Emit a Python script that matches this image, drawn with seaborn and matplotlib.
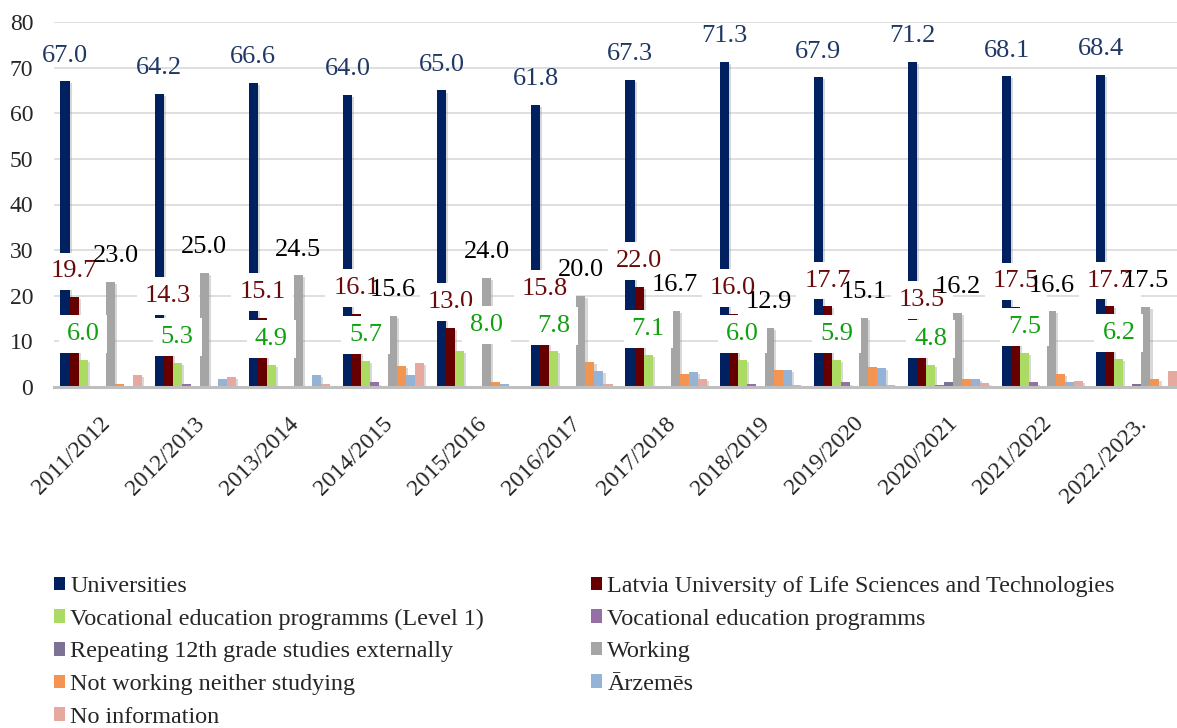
import matplotlib
matplotlib.use("Agg")
import matplotlib.pyplot as plt
import matplotlib.patheffects as pe
import matplotlib.transforms as mtransforms
from matplotlib.patches import Patch
import seaborn as sns
import pandas as pd

# data
years = ["2011/2012", "2012/2013", "2013/2014", "2014/2015", "2015/2016", "2016/2017",
         "2017/2018", "2018/2019", "2019/2020", "2020/2021", "2021/2022", "2022./2023."]
universities = [67.0, 64.2, 66.6, 64.0, 65.0, 61.8, 67.3, 71.3, 67.9, 71.2, 68.1, 68.4]
latvia_univ = [19.7, 14.3, 15.1, 16.1, 13.0, 15.8, 22.0, 16.0, 17.7, 13.5, 17.5, 17.7]
vocational_l1 = [6.0, 5.3, 4.9, 5.7, 8.0, 7.8, 7.1, 6.0, 5.9, 4.8, 7.5, 6.2]
vocational = [0.0, 0.6, 0.0, 1.0, 0.0, 0.0, 0.0, 0.6, 1.0, 0.5, 1.0, 0.3]
repeating = [0.0, 0.0, 0.0, 0.0, 0.0, 0.0, 0.0, 0.0, 0.0, 1.1, 0.0, 0.7]
working = [23.0, 25.0, 24.5, 15.6, 24.0, 20.0, 16.7, 12.9, 15.1, 16.2, 16.6, 17.5]
not_working = [0.6, 0.0, 0.0, 4.6, 1.1, 5.4, 2.9, 3.7, 4.3, 1.7, 2.9, 1.8]
abroad = [0.0, 1.8, 2.6, 2.6, 0.6, 3.5, 3.2, 3.7, 4.1, 1.7, 1.0, 0.0]
no_info = [2.6, 2.3, 0.6, 5.2, 0.2, 0.6, 1.7, 0.4, 0.4, 0.8, 1.3, 3.4]

series_names = ["Universities",
                "Latvia University of Life Sciences and Technologies",
                "Vocational education programms (Level 1)",
                "Vocational education programms",
                "Repeating 12th grade studies externally",
                "Working",
                "Not working neither studying",
                "Ārzemēs",
                "No information"]
series_values = [universities, latvia_univ, vocational_l1, vocational, repeating,
                 working, not_working, abroad, no_info]
colors = ["#002060", "#660000", "#ABDB63", "#9470A6", "#7F7193",
          "#A5A5A5", "#F39450", "#95B3D7", "#E6A99F"]

rows = []
for name, vals in zip(series_names, series_values):
    for yr, v in zip(years, vals):
        rows.append({"Year": yr, "Value": v, "Series": name})
df = pd.DataFrame(rows)

sns.set_style("white")
plt.rcParams["font.family"] = "serif"
plt.rcParams["font.serif"] = ["Liberation Serif", "DejaVu Serif"]

fig = plt.figure(figsize=(11.77, 7.28), dpi=100)
ax = fig.add_axes([54 / 1177, 1 - 387 / 728, 1130 / 1177, 365 / 728])

sns.barplot(data=df, x="Year", y="Value", hue="Series", hue_order=series_names,
            order=years, palette=colors, saturation=1, width=0.862, gap=0,
            errorbar=None, legend=False, ax=ax)

shadow = [pe.SimplePatchShadow(offset=(1.5, -1.5), shadow_rgbFace="#808080", alpha=0.3), pe.Normal()]
for cont in ax.containers:
    for bar in cont:
        bar.set_linewidth(0)
        bar.set_path_effects(shadow)

# data labels: series index -> (text colour, white box?)
label_style = {0: ("#1F3864", False), 1: ("#6B0A0A", True),
               2: ("#10A010", True), 5: ("#000000", False)}
label_shift = {(2, 4): 19.5, (5, 0): 4}
for k, (col, boxed) in label_style.items():
    cont = ax.containers[k]
    for j, bar in enumerate(cont):
        h = bar.get_height()
        xc = bar.get_x() + bar.get_width() / 2
        box = dict(boxstyle="square,pad=0.3", fc="white", ec="none") if boxed else None
        ax.annotate(f"{h:.1f}", (xc, h), xytext=(label_shift.get((k, j), 0), 18.5),
                    textcoords="offset points", ha="center", va="center",
                    fontsize=19, color=col, bbox=box, zorder=10 + k)

ax.set_xlim(-0.5, 11.5)
ax.set_ylim(0, 80)
ax.set_yticks(range(0, 81, 10))
ax.yaxis.grid(True, color="#D9D9D9", lw=1.2)
ax.set_axisbelow(True)
for s in ["top", "right", "left"]:
    ax.spines[s].set_visible(False)
ax.spines["bottom"].set_color("#BFBFBF")
ax.spines["bottom"].set_linewidth(2.2)
ax.set_xlabel("")
ax.set_ylabel("")
ax.tick_params(axis="y", length=0, pad=15, labelsize=17)
ax.tick_params(axis="x", length=0, pad=24, labelsize=17)
ax.set_xticks(range(len(years)))
ax.set_xticklabels(years, rotation=45, ha="right", va="center", rotation_mode="anchor")
offset = mtransforms.ScaledTranslation(6 / 100, 0, fig.dpi_scale_trans)
for lab in ax.get_xticklabels():
    lab.set_transform(lab.get_transform() + offset)

# legend, filled column by column like the reference rows
handles = [Patch(facecolor=c, edgecolor="none") for c in colors]
order = [0, 2, 4, 6, 8, 1, 3, 5, 7]
fig.legend([handles[i] for i in order], [series_names[i] for i in order],
           ncol=2, loc="upper left", bbox_to_anchor=(53.5 / 1177, 1 - 576 / 728),
           frameon=False, fontsize=17.4, handlelength=0.46, handleheight=0.48,
           handletextpad=0.24, columnspacing=4.4, labelspacing=0.48, borderpad=0,
           borderaxespad=0)

fig.savefig("out.png", dpi=100)
